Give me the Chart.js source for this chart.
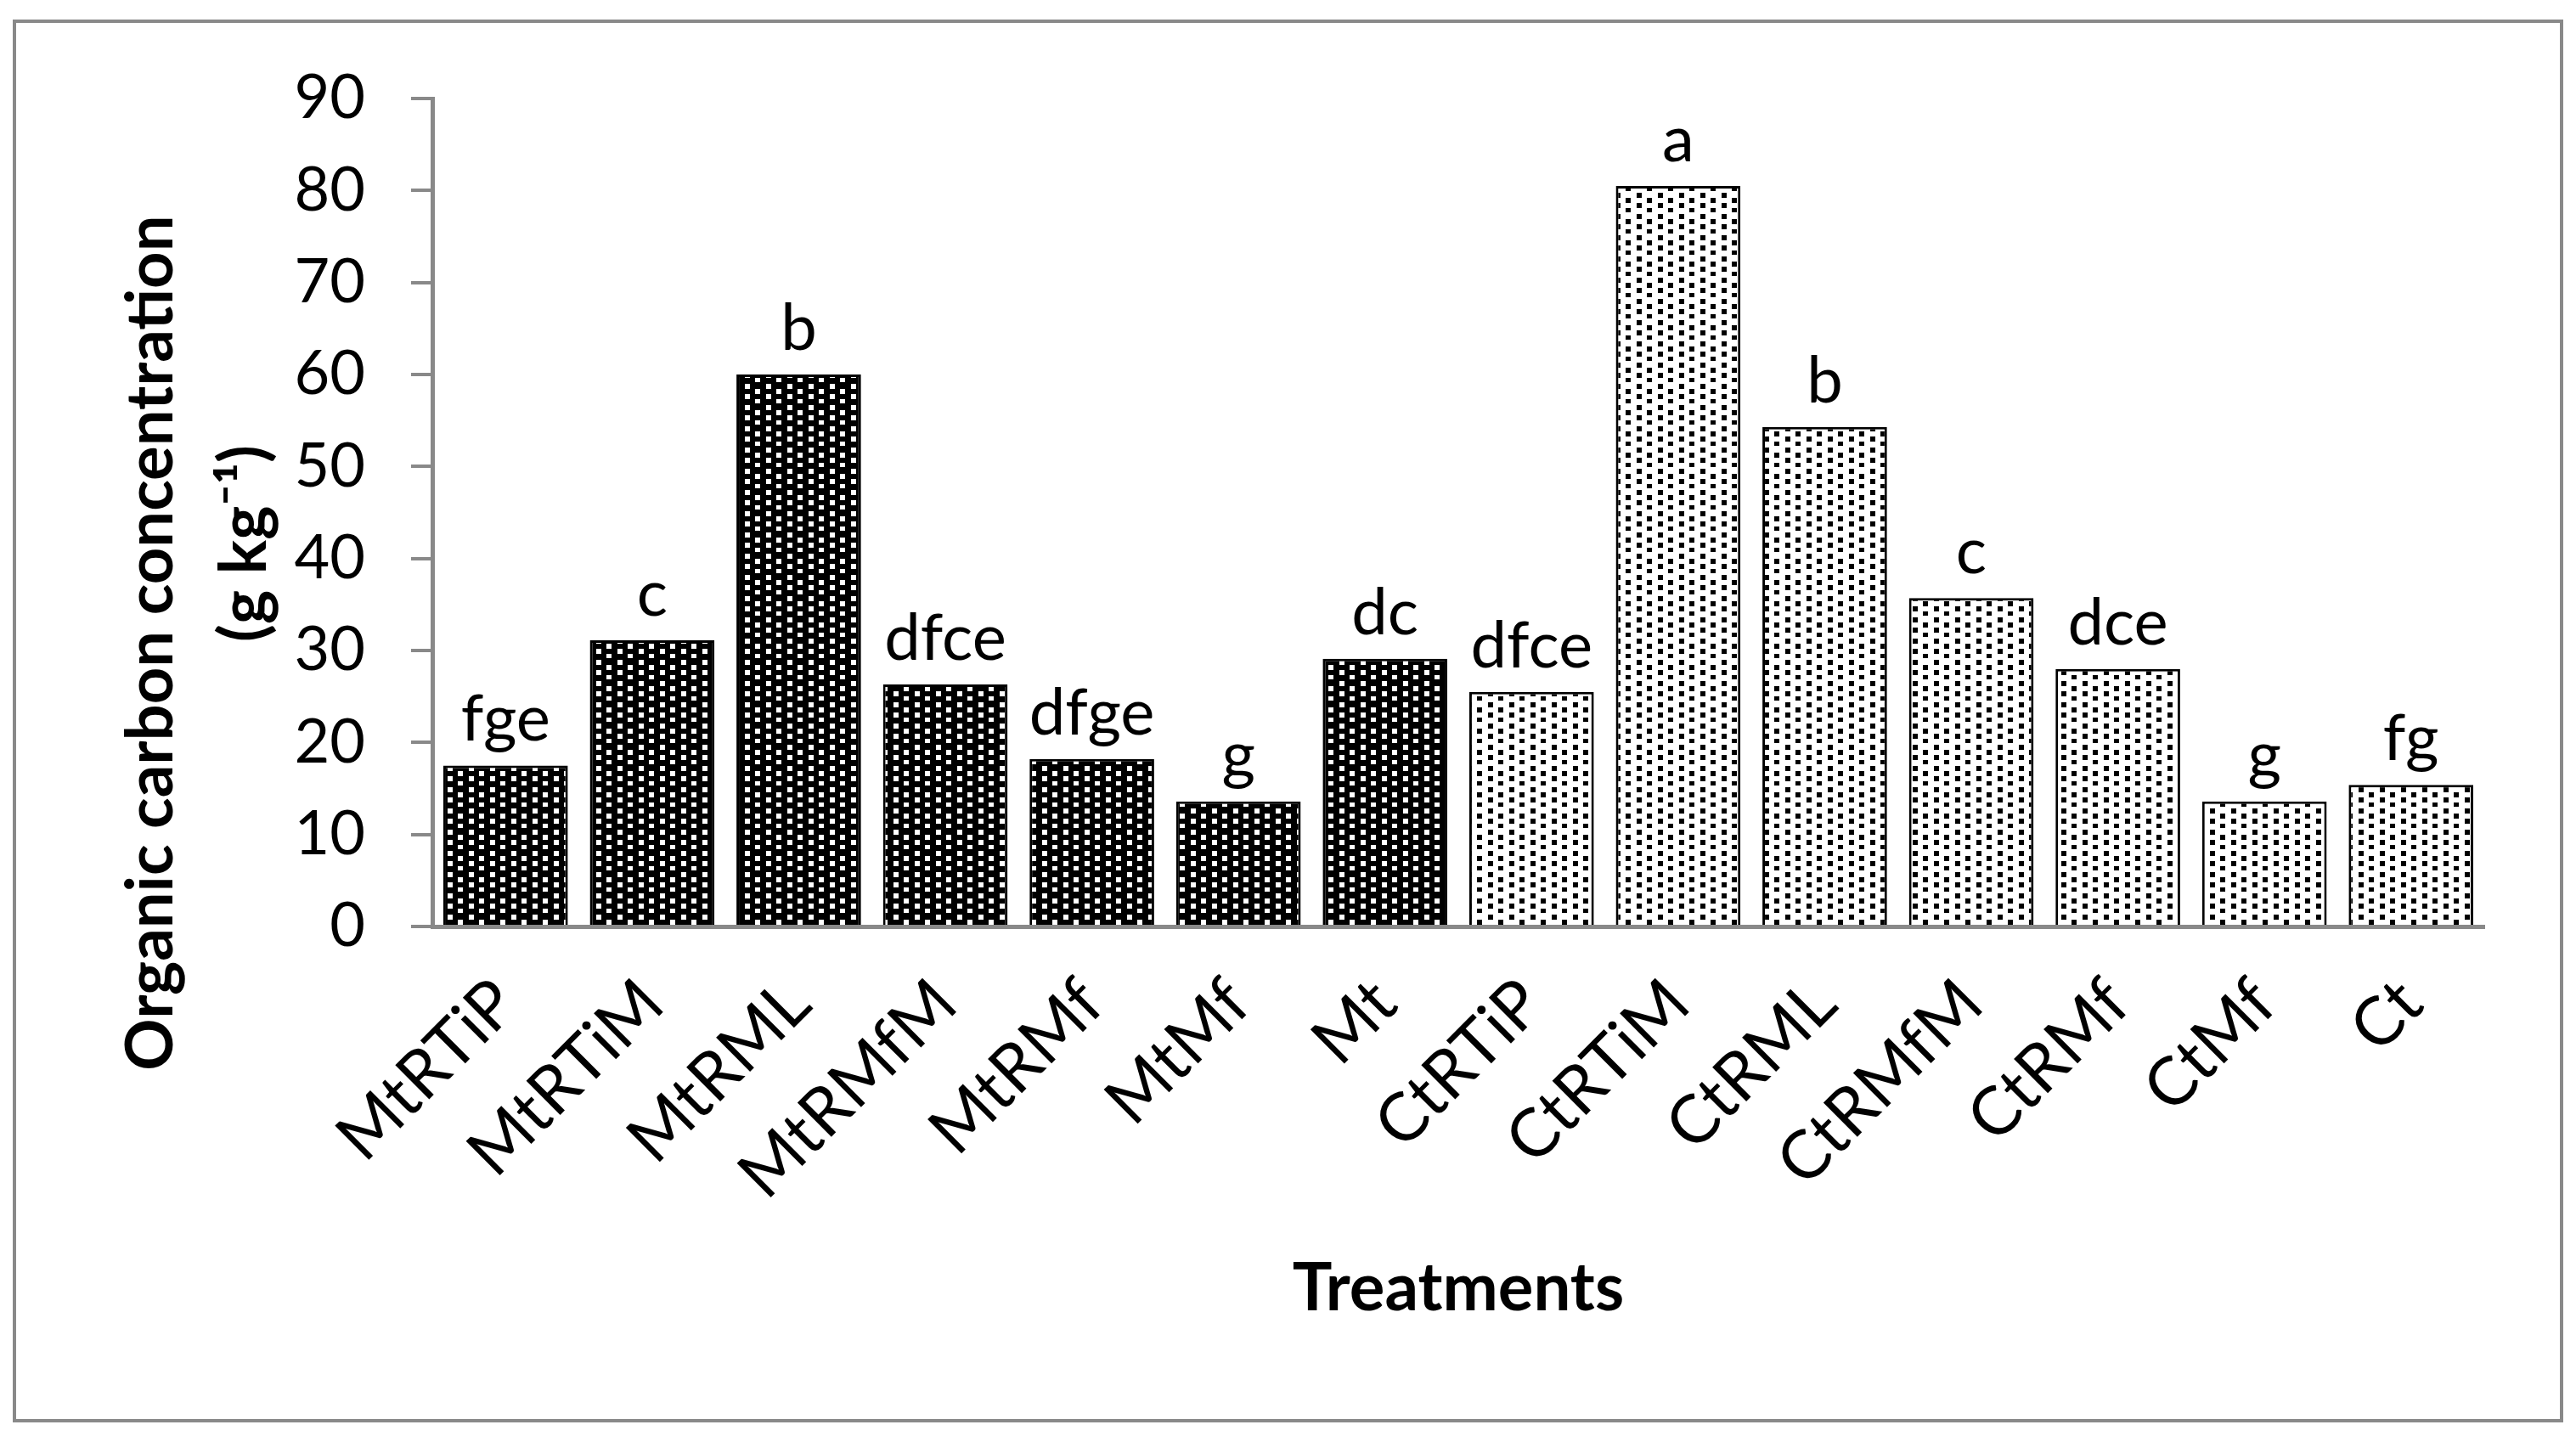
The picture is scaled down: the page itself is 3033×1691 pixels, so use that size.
<!DOCTYPE html>
<html>
<head>
<meta charset="utf-8">
<script src="https://cdn.jsdelivr.net/npm/chart.js@4.4.1/dist/chart.umd.min.js"></script>
<style>
html, body { margin: 0; padding: 0; background: #fff; }
canvas { display: block; }
</style>
</head>
<body>
<canvas id="carbonChart" width="3033" height="1691"></canvas>
<script>
const treatments = ['MtRTiP', 'MtRTiM', 'MtRML', 'MtRMfM', 'MtRMf', 'MtMf', 'Mt',
                    'CtRTiP', 'CtRTiM', 'CtRML', 'CtRMfM', 'CtRMf', 'CtMf', 'Ct'];
const carbonValues = [17.5, 31.1, 60.0, 26.3, 18.2, 13.6, 29.1,
                      25.5, 80.5, 54.3, 35.7, 28.0, 13.6, 15.4];
const groupLetters = ['fge', 'c', 'b', 'dfce', 'dfge', 'g', 'dc',
                      'dfce', 'a', 'b', 'c', 'dce', 'g', 'fg'];
const yMin = 0;
const yMax = 90;
const yStep = 10;

const axisGray = '#898989';
Chart.defaults.font.family = 'Lato, "Open Sans", sans-serif';

const canvas = document.getElementById('carbonChart');
const ctx = canvas.getContext('2d');

// dotted fills like the excel patterns
function makeDots(bg, fg) {
    const tile = document.createElement('canvas');
    tile.width = 25;
    tile.height = 25;
    const c = tile.getContext('2d');
    c.fillStyle = bg;
    c.fillRect(0, 0, 25, 25);
    c.fillStyle = fg;
    [[2, 2], [2, 14], [14, 8], [14, 20]].forEach(([x, y]) => c.fillRect(x, y, 6, 6));
    return ctx.createPattern(tile, 'repeat');
}

const darkDots = makeDots('#000', '#fff');
const lightDots = makeDots('#fff', '#000');
const barFills = treatments.map(t => t.startsWith('Mt') ? darkDots : lightDots);

const frame = {
    id: 'frame',
    beforeDraw(chart) {
        const c = chart.ctx;
        c.save();
        c.fillStyle = '#fff';
        c.fillRect(0, 0, chart.width, chart.height);
        c.strokeStyle = axisGray;
        c.lineWidth = 4;
        c.strokeRect(17, 25, 2999, 1648);
        c.restore();
    }
};

const letterLabels = {
    id: 'letterLabels',
    afterDatasetsDraw(chart) {
        const c = chart.ctx;
        const bars = chart.getDatasetMeta(0).data;
        c.save();
        c.font = '76px Lato, "Open Sans", sans-serif';
        c.fillStyle = '#000';
        c.textAlign = 'center';
        c.textBaseline = 'alphabetic';
        bars.forEach((bar, i) => c.fillText(groupLetters[i], bar.x, bar.y - 29));
        c.restore();
    }
};

// y title: two lines, not centred on the same spot in the original
function drawUpright(c, text, x, y) {
    c.save();
    c.font = 'bold 76px Lato, "Open Sans", sans-serif';
    c.fillStyle = '#000';
    c.textAlign = 'center';
    c.textBaseline = 'middle';
    c.translate(x, y);
    c.rotate(-Math.PI / 2);
    c.fillText(text, 0, 0);
    c.restore();
}

const yTitle = {
    id: 'yTitle',
    afterDraw(chart) {
        drawUpright(chart.ctx, 'Organic carbon concentration', 178, 757);
        drawUpright(chart.ctx, '(g kg\u207B\u00B9)', 288, 640);
    }
};

new Chart(ctx, {
    type: 'bar',
    data: {
        labels: treatments,
        datasets: [{
            data: carbonValues,
            backgroundColor: barFills,
            borderColor: '#000',
            borderWidth: 3,
            barPercentage: 0.85,
            categoryPercentage: 1.0
        }]
    },
    options: {
        responsive: false,
        devicePixelRatio: 1,
        animation: false,
        layout: { padding: { left: 0, top: 116, right: 108, bottom: 126 } },
        plugins: {
            legend: { display: false },
            tooltip: { enabled: false }
        },
        scales: {
            x: {
                grid: { display: false },
                border: { display: true, color: axisGray, width: 5 },
                ticks: {
                    color: '#000',
                    font: { size: 79 },
                    minRotation: 45,
                    maxRotation: 45,
                    autoSkip: false,
                    padding: 36
                },
                title: {
                    display: true,
                    text: 'Treatments',
                    color: '#000',
                    font: { size: 78, weight: 'bold' },
                    padding: { top: 0, bottom: 0 }
                },
                afterFit(scale) { scale.height = 474; }
            },
            y: {
                min: yMin,
                max: yMax,
                ticks: { stepSize: yStep, color: '#000', font: { size: 72 }, padding: 54 },
                grid: { drawOnChartArea: false, drawTicks: true, tickLength: 25, color: axisGray, lineWidth: 4 },
                border: { color: axisGray, width: 5 },
                afterFit(scale) { scale.width = 509; }
            }
        }
    },
    plugins: [frame, letterLabels, yTitle]
});
</script>
</body>
</html>
